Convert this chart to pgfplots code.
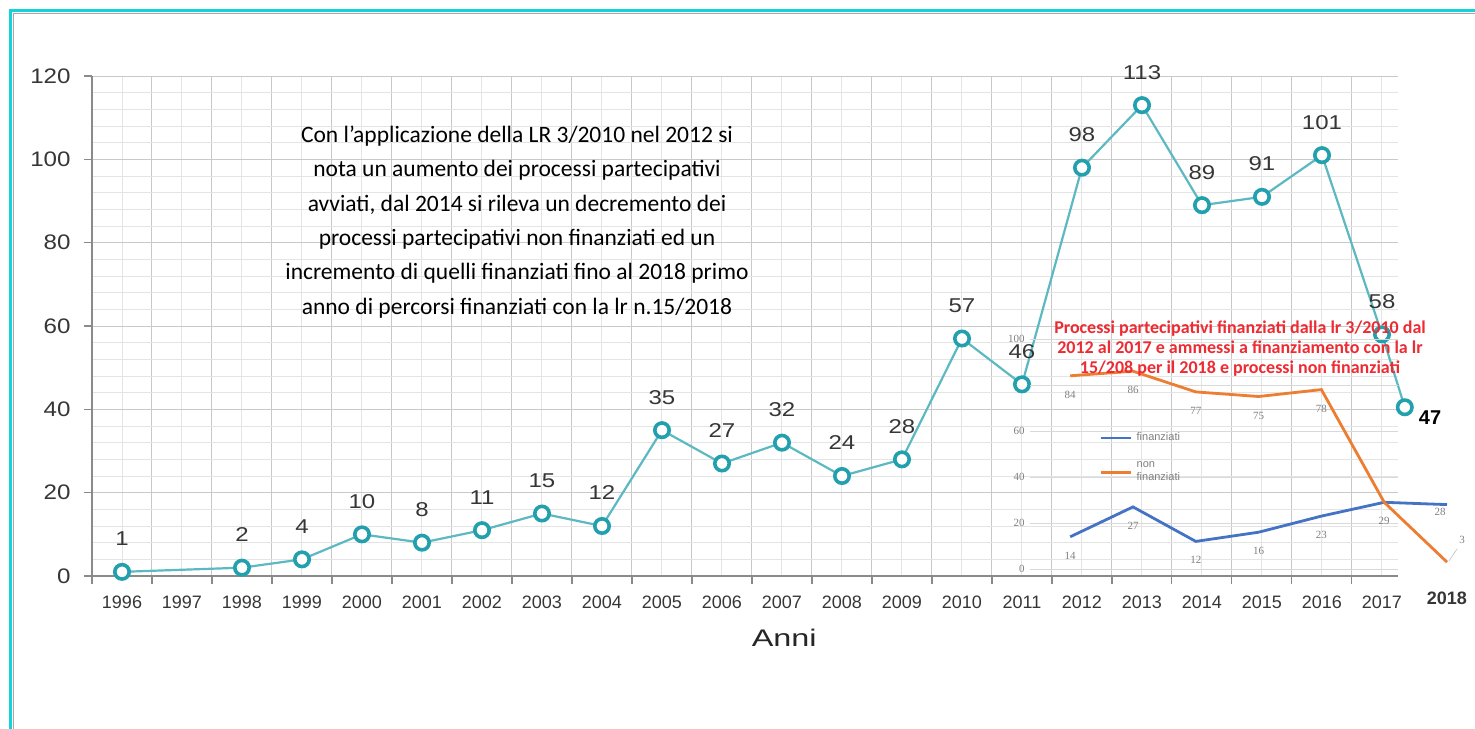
\documentclass[border=0pt]{standalone}
\usepackage{fontspec}
\setmainfont{Liberation Sans}
\newfontfamily\calibri{Carlito}
\newfontfamily\tnr{Liberation Serif}
\usepackage{pgfplots}
\pgfplotsset{compat=1.18}
\definecolor{cyanframe}{HTML}{12D3DC}
\definecolor{tealline}{HTML}{5CB9C2}
\definecolor{tealmark}{HTML}{22A0AE}
\definecolor{majgrid}{HTML}{C9C9C9}
\definecolor{mingrid}{HTML}{E4E4E4}
\definecolor{axgray}{HTML}{8A8A8A}
\definecolor{txtgray}{HTML}{363636}
\definecolor{xlblue}{HTML}{4472C4}
\definecolor{xlorange}{HTML}{ED7D31}
\definecolor{titlered}{HTML}{EE2B32}
\definecolor{smallgray}{HTML}{808080}
\begin{document}
\begin{tikzpicture}
\useasboundingbox (0,0) rectangle (737.5pt,-364pt);
\clip (0,0) rectangle (737.5pt,-364pt);
\fill[white] (0,0) rectangle (737.5pt,-364pt);
\draw[cyanframe, line width=1.6pt] (5.3pt,-380pt) -- (5.3pt,-5.3pt) -- (760pt,-5.3pt);
\draw[gray!70, line width=0.5pt] (6.6pt,-380pt) -- (6.6pt,-6.6pt) -- (760pt,-6.6pt);

\begin{axis}[
  at={(46pt,-288pt)}, anchor=south west,
  scale only axis, width=653pt, height=250pt,
  xmin=1995.5, xmax=2017.267, ymin=0, ymax=120,
  axis lines=left, axis line style={-, axgray, line width=0.6pt},
  clip=false,
  /pgf/number format/assume math mode=true,
  xtick={1995.5,1996.5,...,2016.5}, xticklabels={},
  minor xtick={1996,...,2017},
  ytick={0,20,...,120}, minor y tick num=4,
  grid=both,
  major grid style={majgrid, line width=0.5pt},
  minor grid style={mingrid, line width=0.5pt},
  tick align=outside, major tick length=4pt, minor tick length=0pt,
  tick style={axgray, line width=0.6pt},
  extra x ticks={1996,...,2017},
  extra x tick labels={1996,1997,1998,1999,2000,2001,2002,2003,2004,2005,2006,2007,2008,2009,2010,2011,2012,2013,2014,2015,2016,2017},
  extra x tick style={grid=none, major tick length=0pt},
  xticklabel style={font=\fontsize{9pt}{10pt}\selectfont, text=txtgray, anchor=center, yshift=-13pt},
  yticklabel style={font=\fontsize{10.5pt}{12pt}\selectfont, text=txtgray, anchor=east, inner sep=0pt, xshift=-6.5pt, xscale=1.15},
  xlabel={Anni},
  xlabel style={at={(axis description cs:0.53,-0.124)}, anchor=center, font=\fontsize{12pt}{14pt}\selectfont, text=black!85, xscale=1.35},
]
\addplot[tealline, line width=1.1pt, mark=*, mark indices={2}, mark size=3.6pt,
  mark options={draw=tealmark, fill=white, line width=1.8pt}]
  coordinates {(2017,58) (2017.38,40.5)};
\addplot[tealline, line width=1.1pt, mark=*, mark size=3.6pt,
  mark options={draw=tealmark, fill=white, line width=1.8pt},
  nodes near coords,
  every node near coord/.append style={anchor=center, yshift=16.5pt, font=\fontsize{10pt}{12pt}\selectfont, text=txtgray, xscale=1.2}]
  coordinates {(1996,1) (1998,2) (1999,4) (2000,10) (2001,8) (2002,11) (2003,15) (2004,12)
  (2005,35) (2006,27) (2007,32) (2008,24) (2009,28) (2010,57) (2011,46) (2012,98)
  (2013,113) (2014,89) (2015,91) (2016,101) (2017,58)};
\node[font=\bfseries\fontsize{10pt}{12pt}\selectfont, text=black] at (axis cs:2017.80,37.9) {47};
\node[font=\bfseries\fontsize{9pt}{10pt}\selectfont, text=txtgray] at (axis cs:2018.08,-5.3) {2018};
\end{axis}

\begin{axis}[
  at={(515pt,-284.5pt)}, anchor=south west,
  scale only axis, width=184pt, height=115pt,
  xmin=2011.36, xmax=2017.22, ymin=0, ymax=100,
  axis lines=left, axis line style={draw=none},
  xtick=\empty,
  ytick={0,20,...,100}, yticklabels={0,20,40,60,,100},
  major tick length=0pt,
  ymajorgrids, major grid style={gray!30, line width=0.5pt},
  /pgf/number format/assume math mode=true,
  yticklabel style={font=\tnr\fontsize{5.5pt}{6pt}\selectfont, text=smallgray, anchor=east, inner sep=0pt, xshift=-2.5pt},
  clip=false,
  legend style={at={(axis cs:2012.37,63)}, anchor=north west, draw=none, fill=none,
    font=\fontsize{5.5pt}{6.5pt}\selectfont, text=smallgray, cells={anchor=west, align=left}, row sep=5pt},
  legend image code/.code={\draw[#1] (0pt,0pt) -- (15pt,0pt);},
]
\addplot[xlblue, line width=1.4pt] coordinates {(2012,14) (2013,27) (2014,12) (2015,16) (2016,23) (2017,29) (2018,28)};
\addlegendentry{finanziati}
\addplot[xlorange, line width=1.4pt] coordinates {(2012,84) (2013,86) (2014,77) (2015,75) (2016,78) (2017,29) (2018,3)};
\addlegendentry{non\\finanziati}
\addplot[draw=none, forget plot, nodes near coords,
  every node near coord/.append style={anchor=center, yshift=-9.3pt, font=\tnr\fontsize{5.5pt}{6pt}\selectfont, text=smallgray}]
  coordinates {(2012,14) (2013,27) (2014,12) (2015,16) (2016,23) (2017,29)};
\addplot[draw=none, forget plot, nodes near coords,
  every node near coord/.append style={anchor=center, yshift=-9.5pt, font=\tnr\fontsize{5.5pt}{6pt}\selectfont, text=smallgray}]
  coordinates {(2012,84) (2013,86) (2014,77) (2015,75) (2016,78)};
\node[font=\tnr\fontsize{5.5pt}{6pt}\selectfont, text=smallgray] at (axis cs:2017.89,24.8) {28};
\node[font=\tnr\fontsize{5.5pt}{6pt}\selectfont, text=smallgray] at (axis cs:2018.24,12.6) {3};
\draw[gray!50, line width=0.3pt] (axis cs:2018.03,3.5) -- (axis cs:2018.16,8.7);
\end{axis}

\node[align=center, font=\calibri\fontsize{11.75pt}{17.15pt}\selectfont, text=black] at (258.5pt,-111pt)
 {Con l’applicazione della LR 3/2010 nel 2012 si\\nota un aumento dei processi partecipativi\\avviati, dal 2014 si rileva un decremento dei\\processi partecipativi non finanziati ed un\\incremento di quelli finanziati fino al 2018 primo\\anno di percorsi finanziati con la lr n.15/2018};
\node[align=center, font=\calibri\bfseries\fontsize{9pt}{10pt}\selectfont, text=titlered] at (620pt,-174.5pt)
 {Processi partecipativi finanziati dalla lr 3/2010 dal\\2012 al 2017 e ammessi a finanziamento con la lr\\15/208 per il 2018 e processi non finanziati};
\end{tikzpicture}
\end{document}
